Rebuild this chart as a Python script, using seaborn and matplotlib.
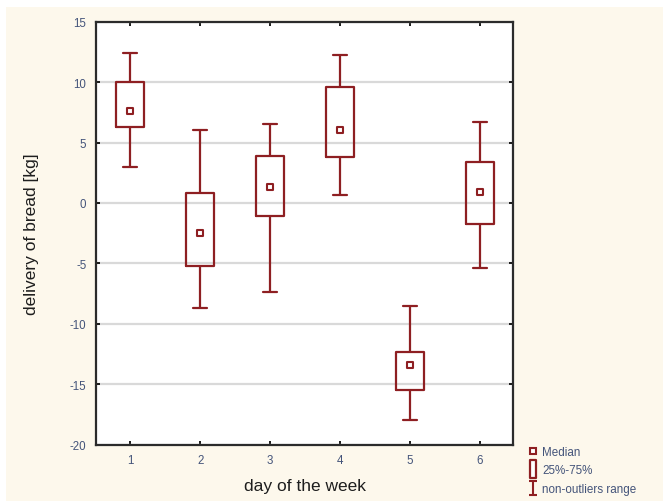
import numpy as np
import pandas as pd
import matplotlib
matplotlib.use("Agg")
import matplotlib.pyplot as plt
from matplotlib.lines import Line2D
from matplotlib.path import Path
import seaborn as sns

# Box statistics for bread delivery per day of the week [kg]
days = ["1", "2", "3", "4", "5", "6"]
whisker_low = [2.95, -8.7, -7.35, 0.65, -17.95, -5.4]
q1 = [6.25, -5.2, -1.05, 3.8, -15.5, -1.7]
medians = [7.6, -2.5, 1.35, 6.0, -13.4, 0.9]
q3 = [10.0, 0.85, 3.9, 9.6, -12.3, 3.4]
whisker_high = [12.45, 6.05, 6.5, 12.25, -8.5, 6.7]
y_ticks = [-20, -15, -10, -5, 0, 5, 10, 15]

# Five summary values per day; with whis=(0, 100) the boxplot reproduces them exactly
rows = []
for i, d in enumerate(days):
    for v in (whisker_low[i], q1[i], medians[i], q3[i], whisker_high[i]):
        rows.append({"day": d, "value": v})
df = pd.DataFrame(rows)

RED = "#8e1f22"
TICK_COLOR = "#44547a"
BG = "#fdf8ec"

sns.set_style("white")
plt.rcParams["font.family"] = ["Liberation Sans", "DejaVu Sans"]
plt.rcParams["axes.unicode_minus"] = False

fig = plt.figure(figsize=(6.63, 5.02), dpi=100, facecolor="white")
fig.patches.append(plt.Rectangle((6 / 663, 0.0), 1, 1 - 8 / 502,
                                 transform=fig.transFigure, facecolor=BG,
                                 edgecolor="none", zorder=-10))
ax = fig.add_axes([96 / 663, 1 - 445.7 / 502, (513 - 96) / 663, (445.7 - 22.7) / 502])
ax.set_facecolor("white")

sns.boxplot(data=df, x="day", y="value", order=days, whis=(0, 100), width=0.4,
            fill=False, color=RED, linewidth=1.6, showfliers=False,
            medianprops={"visible": False}, ax=ax)
sns.stripplot(x=days, y=medians, order=days, jitter=False, marker="s", size=4.2,
              color="white", edgecolor=RED, linewidth=1.5, ax=ax, zorder=5)

ax.set_ylim(-20, 15)
ax.set_xlim(-0.49, 5.47)
ax.set_yticks(y_ticks)
ax.set_yticklabels([str(t) for t in y_ticks])
ax.yaxis.grid(True, color="#d9d9d9", linewidth=1.6)
ax.xaxis.grid(False)
ax.set_axisbelow(True)

for s in ax.spines.values():
    s.set_visible(True)
    s.set_color("#2b2b2b")
    s.set_linewidth(1.6)

ax.tick_params(axis="both", which="both", direction="in", length=3, width=1.4,
               color="#1a1a1a", top=True, right=True, left=True, bottom=True,
               labelsize=8.3, labelcolor=TICK_COLOR, pad=7)

ax.set_xlabel("day of the week", fontsize=12.5, color="#1e1e1e", labelpad=8)
ax.set_ylabel("delivery of bread [kg]", fontsize=12.5, color="#1e1e1e", labelpad=22)

# Legend symbols: median square, interquartile box, non-outlier range
box_path = Path([(-0.3, -1), (0.3, -1), (0.3, 1), (-0.3, 1), (-0.3, -1)],
                [Path.MOVETO, Path.LINETO, Path.LINETO, Path.LINETO, Path.CLOSEPOLY])
range_path = Path([(-0.55, 1), (0.55, 1), (0, 1), (0, -1), (-0.55, -1), (0.55, -1)],
                  [Path.MOVETO, Path.LINETO, Path.MOVETO, Path.LINETO,
                   Path.MOVETO, Path.LINETO])
handles = [
    Line2D([], [], linestyle="none", marker="s", markersize=4.2, markerfacecolor="white",
           markeredgecolor=RED, markeredgewidth=1.5),
    Line2D([], [], linestyle="none", marker=box_path, markersize=12.5,
           markerfacecolor="white", markeredgecolor=RED, markeredgewidth=1.6),
    Line2D([], [], linestyle="none", marker=range_path, markersize=10.5,
           markerfacecolor="none", markeredgecolor=RED, markeredgewidth=1.5),
]
labels = ["Median", "25%-75%", "non-outliers range"]
leg = fig.legend(handles, labels, loc="upper left",
                 bbox_to_anchor=(524 / 663, 1 - 442 / 502), frameon=False,
                 fontsize=8.4, handlelength=0.7, handletextpad=0.45,
                 labelspacing=0.58, borderaxespad=0)
for t in leg.get_texts():
    t.set_color(TICK_COLOR)

fig.savefig("out.png", dpi=100, facecolor=fig.get_facecolor())
